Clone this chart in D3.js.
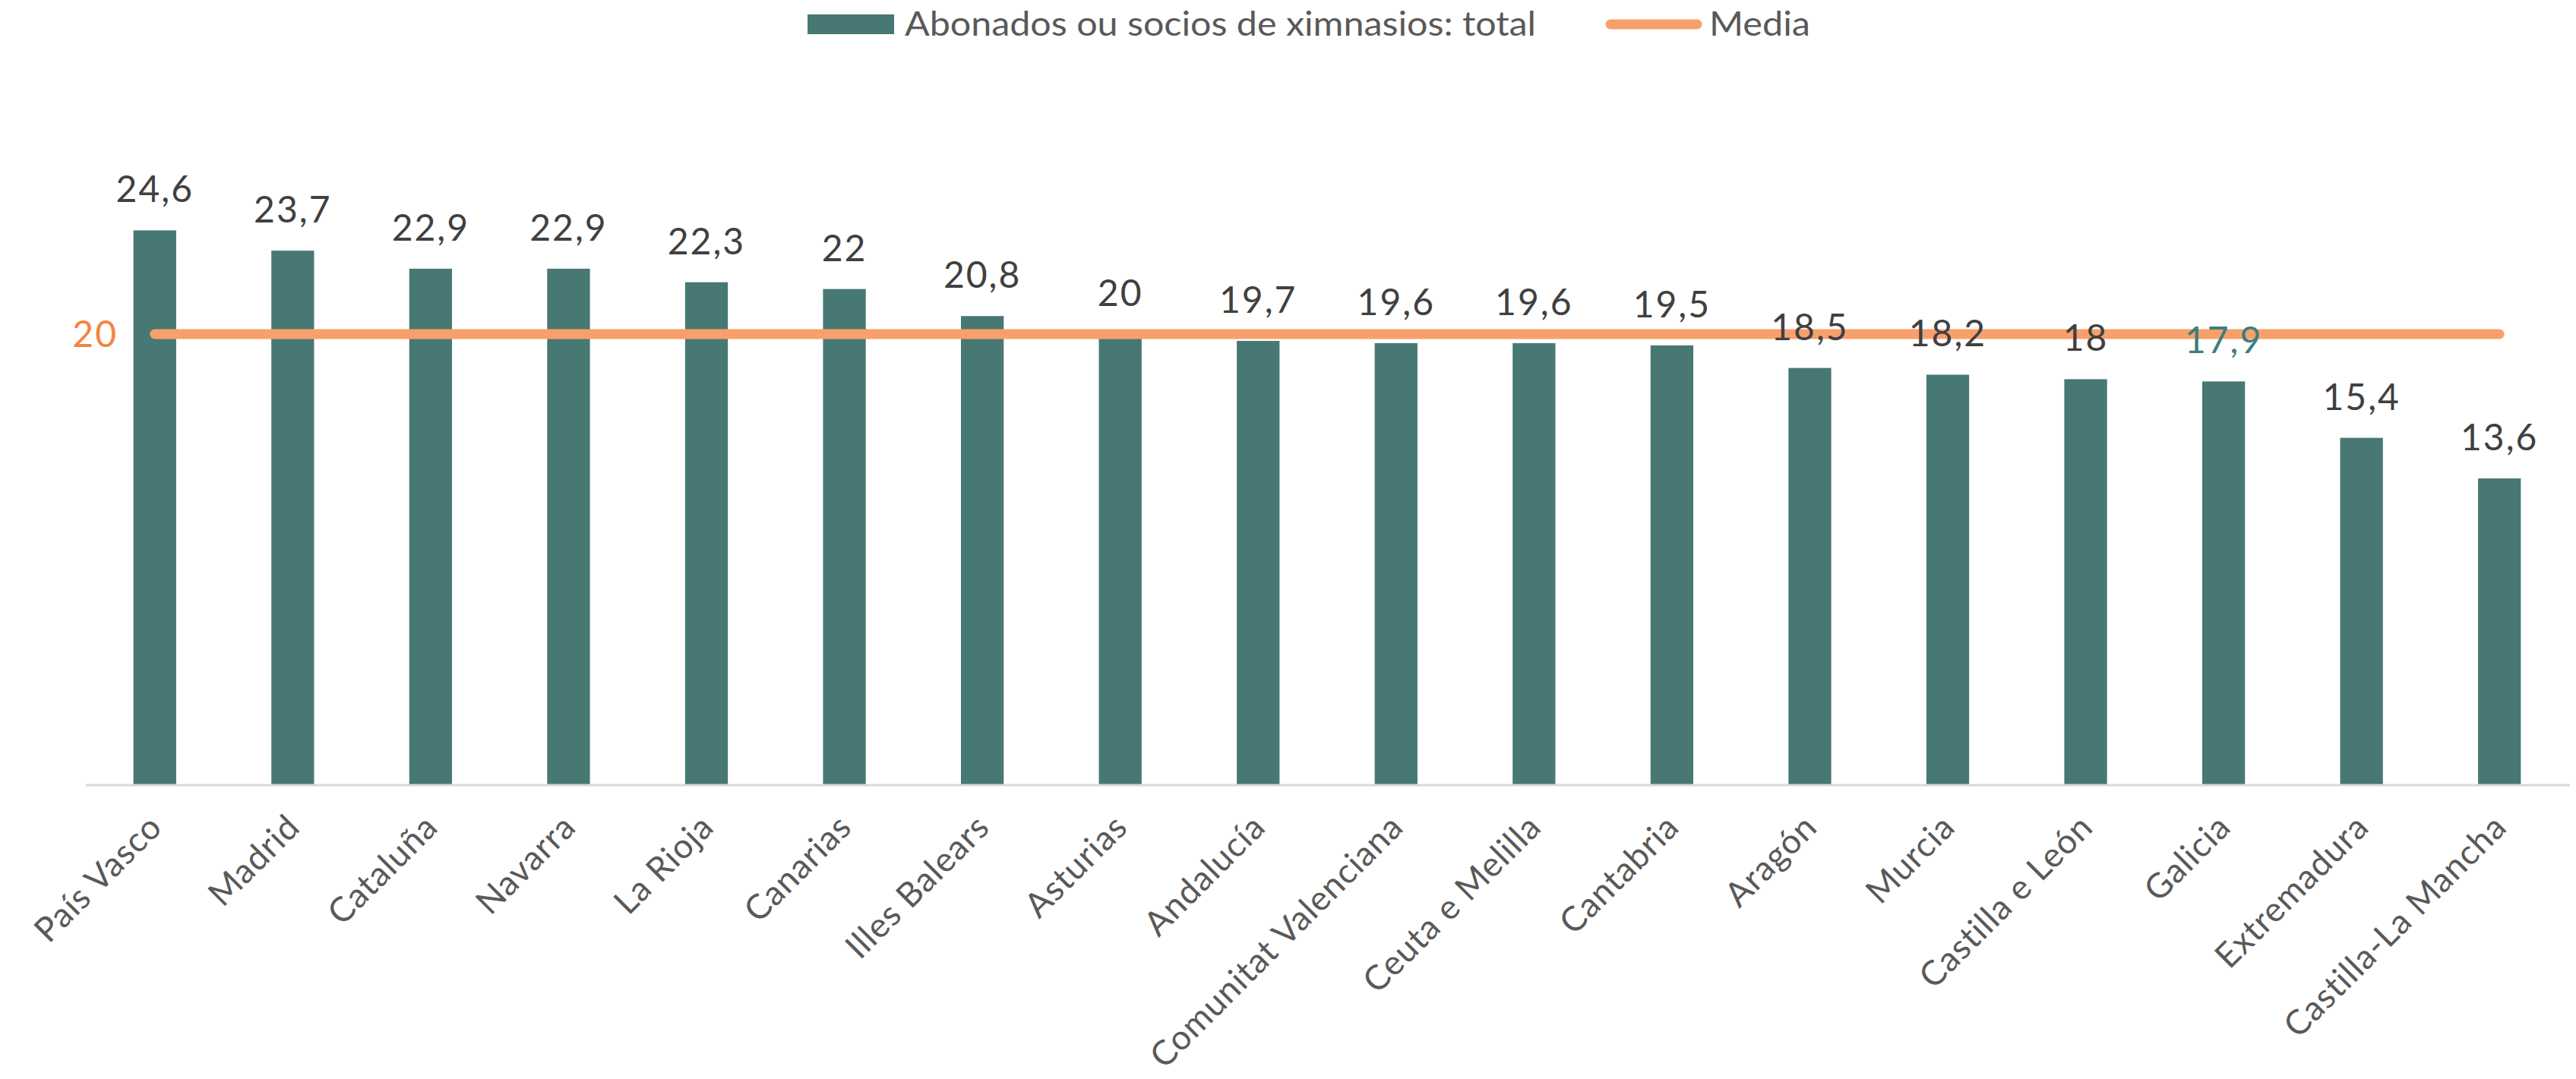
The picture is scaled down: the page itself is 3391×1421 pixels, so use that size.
<!DOCTYPE html>
<html>
<head>
<meta charset="utf-8">
<script src="https://cdn.jsdelivr.net/npm/d3@7"></script>
<style>
  html, body { margin: 0; padding: 0; background: #ffffff; }
  svg { display: block; }
  text { font-family: Lato, "Open Sans", sans-serif; }
</style>
</head>
<body>
<svg id="chart" width="3391" height="1421"></svg>
<script>
// ---- data ----
const categories = ["País Vasco", "Madrid", "Cataluña", "Navarra", "La Rioja", "Canarias",
  "Illes Balears", "Asturias", "Andalucía", "Comunitat Valenciana", "Ceuta e Melilla",
  "Cantabria", "Aragón", "Murcia", "Castilla e León", "Galicia", "Extremadura", "Castilla-La Mancha"];
const values = [24.6, 23.7, 22.9, 22.9, 22.3, 22, 20.8, 20, 19.7, 19.6, 19.6, 19.5, 18.5, 18.2, 18, 17.9, 15.4, 13.6];
const meanValues = [20, 20, 20, 20, 20, 20, 20, 20, 20, 20, 20, 20, 20, 20, 20, 20, 20, 20];
const valueLabels = ["24,6", "23,7", "22,9", "22,9", "22,3", "22", "20,8", "20", "19,7", "19,6", "19,6", "19,5", "18,5", "18,2", "18", "17,9", "15,4", "13,6"];
const meanLabel = "20";
const seriesNames = ["Abonados ou socios de ximnasios: total", "Media"];

// ---- styles ----
const barColor = "#487873";
const lineColor = "#F8A06C";
const meanLabelColor = "#F4843F";
const labelColor = "#404040";
const catColor = "#595959";
const highlightLabelColor = "#3b7f7a"; // Galicia label colour in reference

const svg = d3.select("#chart");

const x = d3.scaleBand()
  .domain(categories)
  .range([113, 3381])
  .paddingInner(0.69)
  .paddingOuter(0.345);

const yBase = 1034;
const y = d3.scaleLinear().domain([0, 30]).range([yBase, yBase - 30 * 29.7]);

// bars
svg.append("g").selectAll("rect")
  .data(categories)
  .join("rect")
  .attr("x", d => x(d))
  .attr("width", x.bandwidth())
  .attr("y", (d, i) => y(values[i]))
  .attr("height", (d, i) => y(0) - y(values[i]))
  .attr("fill", barColor);

// x axis line
const xAxis = d3.axisBottom(x).tickSize(0).tickFormat("");
const gx = svg.append("g").attr("transform", `translate(0,${yBase})`).call(xAxis);
gx.select(".domain").attr("stroke", "#d9d9d9").attr("stroke-width", 3)
  .attr("d", `M113,0H3383`);

// category labels
svg.append("g").selectAll("text")
  .data(categories)
  .join("text")
  .attr("transform", d => `translate(${x(d) + x.bandwidth() / 2 + 12},${yBase + 58}) rotate(-45)`)
  .attr("text-anchor", "end")
  .attr("font-size", 45)
  .attr("letter-spacing", 1)
  .attr("fill", catColor)
  .text(d => d);

// mean line
const line = d3.line()
  .x((d, i) => x(categories[i]) + x.bandwidth() / 2)
  .y(d => y(d));
svg.append("path")
  .datum(meanValues)
  .attr("d", line)
  .attr("fill", "none")
  .attr("stroke", lineColor)
  .attr("stroke-width", 13)
  .attr("stroke-linecap", "round");

// value labels
svg.append("g").selectAll("text")
  .data(categories)
  .join("text")
  .attr("x", d => x(d) + x.bandwidth() / 2)
  .attr("y", (d, i) => y(values[i]) - 37)
  .attr("text-anchor", "middle")
  .attr("font-size", 48)
  .attr("letter-spacing", 2)
  .attr("fill", (d, i) => d === "Galicia" ? highlightLabelColor : labelColor)
  .text((d, i) => valueLabels[i]);

// mean label at left
svg.append("text")
  .attr("x", 155)
  .attr("y", y(meanValues[0]))
  .attr("dy", "0.36em")
  .attr("text-anchor", "end")
  .attr("font-size", 48)
  .attr("letter-spacing", 2)
  .attr("fill", meanLabelColor)
  .text(meanLabel);

// legend
const lg = svg.append("g");
lg.append("rect").attr("x", 1063).attr("y", 19).attr("width", 114).attr("height", 26).attr("fill", barColor);
lg.append("text").attr("x", 1191).attr("y", 47).attr("font-size", 44).attr("fill", catColor)
  .attr("textLength", 831).attr("lengthAdjust", "spacingAndGlyphs").text(seriesNames[0]);
lg.append("line").attr("x1", 2120).attr("x2", 2234).attr("y1", 32).attr("y2", 32)
  .attr("stroke", lineColor).attr("stroke-width", 13).attr("stroke-linecap", "round");
lg.append("text").attr("x", 2250).attr("y", 47).attr("font-size", 44).attr("fill", catColor)
  .attr("textLength", 133).attr("lengthAdjust", "spacingAndGlyphs").text(seriesNames[1]);
</script>
</body>
</html>
